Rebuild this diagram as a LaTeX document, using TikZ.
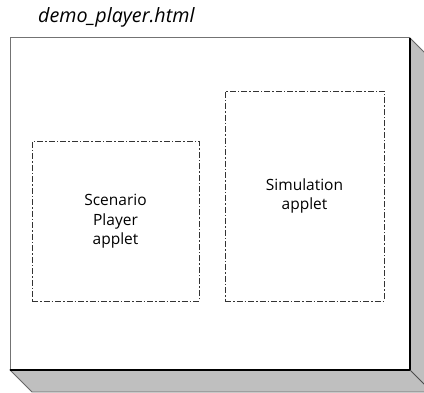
\documentclass[tikz,border=0pt]{standalone}
\usepackage{fontspec}
\setmainfont{Open Sans}
\tikzset{
  applet/.style={draw=black!80, line width=0.8pt,
    dash pattern=on 6pt off 2pt on 1.5pt off 2pt,
    align=center, inner sep=0pt,
    font=\fontsize{15.5}{19.5}\selectfont},
  shadowface/.style={fill=black!25, draw=black!60, line width=0.8pt},
}
\begin{document}
\begin{tikzpicture}[x=1pt,y=-1pt]
\useasboundingbox (0,0) rectangle (424,393);
% 3D slab
\path[shadowface] (410,38) -- (432,60) -- (432,392) -- (32,392) -- (10,370) -- (410,370) -- cycle;
\coordinate (tl) at (10,38);
\coordinate (tr) at (410,38);
\coordinate (br) at (410,370);
\coordinate (bl) at (10,370);
\fill[white] (tl) rectangle (br);
\draw[black!55, line width=1pt] (bl) -- (tl) -- (tr);
\draw[black, line width=1.2pt] (tr) -- (br) -- (bl);
\draw[black!70, line width=0.8pt] (br) -- (432,392);
% title
\node[anchor=base west, inner sep=0pt, font=\fontsize{19.7}{22}\selectfont\itshape] (title) at (38,23) {demo\_player.html};
% applets
\node[applet, minimum width=167pt, minimum height=160pt] (scen) at (115.5,221.5) {Scenario\\Player\\applet};
\node[applet, minimum width=159pt, minimum height=210pt] (sim) at (304.5,196) {Simulation\\applet};
\end{tikzpicture}
\end{document}
